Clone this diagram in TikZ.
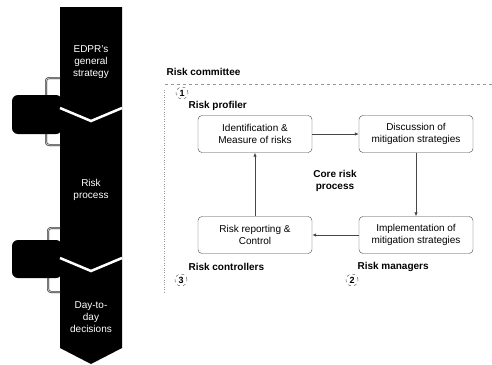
\documentclass[tikz,border=0pt]{standalone}
\usepackage{fontspec}
\setmainfont{Liberation Sans}
\usetikzlibrary{arrows.meta,positioning}
\definecolor{InkGray}{RGB}{70,70,70}
\definecolor{FrameGray}{RGB}{150,150,150}
\definecolor{TabGray}{RGB}{185,185,185}
\tikzset{
  stage/.style={text=white,align=center,font=\fontsize{10}{12}\selectfont},
  procbox/.style={draw=InkGray,rounded corners=4pt,fill=white,thin,
    minimum width=114pt,minimum height=37pt,align=center,
    font=\fontsize{10}{12}\selectfont},
  role/.style={anchor=west,font=\bfseries\fontsize{10}{12}\selectfont},
  stepnum/.style={circle,draw=InkGray,dashed,thin,inner sep=1pt,
    minimum size=12pt,font=\bfseries\fontsize{9}{10}\selectfont},
  tab/.style={fill=black,rounded corners=6pt},
  clip line/.style={draw=black,double=TabGray,double distance=1.2pt,
    rounded corners=3pt},
  arrow/.style={-{Latex[length=4pt,width=3.5pt]},thick,InkGray}
}

\begin{document}
\begin{tikzpicture}[x=1pt,y=-1pt]

\useasboundingbox (0,0) rectangle (492,364);

% left column
\fill[black] (60,7) -- (122,7) -- (122,348) -- (91,364) -- (60,348) -- cycle;

\node[stage] (strategy) at (91,62) {EDPR's\\general\\strategy};
\node[stage] (riskproc) at (91,190) {Risk\\process};
\node[stage] (daytoday) at (91,317) {Day-to-\\day\\decisions};

% side tabs
\draw[clip line] (46,97) |- (60,78);
\draw[clip line] (46,131) |- (60,145);
\draw[clip line] (48,242) |- (60,228);
\draw[clip line] (48,276) |- (60,292);
\fill[tab] (12,95) rectangle (62,134);
\fill[tab] (12,240) rectangle (62,278);
\draw[white,line width=2.5pt] (60,108) -- (91,121) -- (122,108);
\draw[white,line width=2.5pt] (60,258) -- (91,271) -- (122,258);

% committee frame
\node[role] (committee) at (163,72) {Risk committee};
\draw[FrameGray,dashed,thin] (165,84) -- (492,84);
\draw[FrameGray,dotted,thin] (164,90) -- (164,292);

% process boxes
\node[procbox] (identify) at (255,134) {Identification \&\\Measure of risks};
\node[procbox] (discuss) at (416,134) {Discussion of\\mitigation strategies};
\node[procbox] (implement) at (416,235) {Implementation of\\mitigation strategies};
\node[procbox] (report) at (255,235) {Risk reporting \&\\Control};

\node[font=\bfseries\fontsize{10}{12}\selectfont,align=center] (core) at (335,181) {Core risk\\process};

\draw[arrow] (identify) -- (discuss);
\draw[arrow] (discuss) -- (implement);
\draw[arrow] (implement) -- (report);
\draw[arrow] (report) -- (identify);

% roles
\node[stepnum] (one) at (182,93) {1};
\node[role] (profiler) at (185,106) {Risk profiler};
\node[role] (controllers) at (185,267) {Risk controllers};
\node[stepnum] (three) at (181,280) {3};
\node[role] (managers) at (354,267) {Risk managers};
\node[stepnum] (two) at (352,280) {2};

\end{tikzpicture}
\end{document}
